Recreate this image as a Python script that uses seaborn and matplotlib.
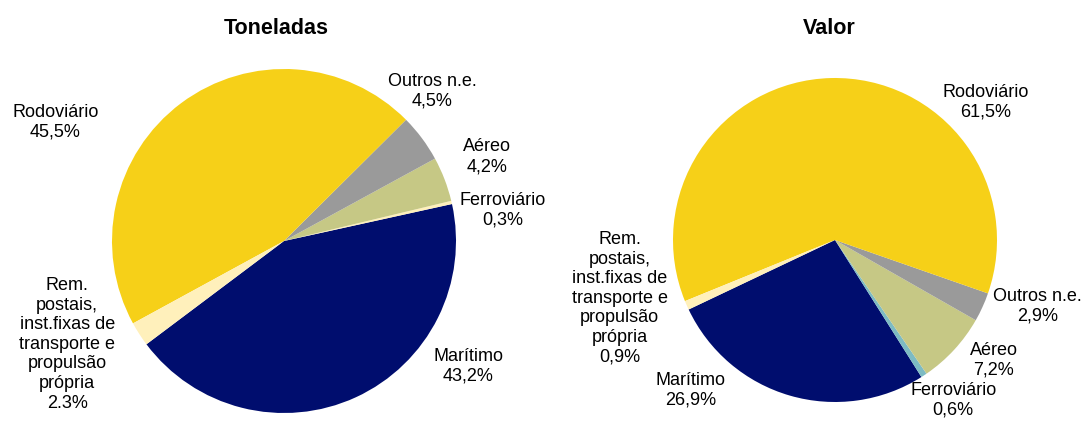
import matplotlib
matplotlib.use("Agg")
import matplotlib.pyplot as plt
import seaborn as sns

sns.set_theme(style="white")
plt.rcParams["font.family"] = ["Liberation Sans", "DejaVu Sans"]

# Shares by transport mode (%), listed counterclockwise from Marítimo
modes = ["Marítimo", "Ferroviário", "Aéreo", "Outros n.e.", "Rodoviário", "Rem. postais"]
toneladas = [43.2, 0.3, 4.2, 4.5, 45.5, 2.3]
valor = [26.9, 0.6, 7.2, 2.9, 61.5, 0.9]

labels_ton = ["Marítimo\n43,2%", "Ferroviário\n0,3%", "Aéreo\n4,2%", "Outros n.e.\n4,5%",
              "Rodoviário\n45,5%",
              "Rem.\npostais,\ninst.fixas de\ntransporte e\npropulsão\nprópria\n2.3%"]
labels_val = ["Marítimo\n26,9%", "Ferroviário\n0,6%", "Aéreo\n7,2%", "Outros n.e.\n2,9%",
              "Rodoviário\n61,5%",
              "Rem.\npostais,\ninst.fixas de\ntransporte e\npropulsão\nprópria\n0,9%"]

colors_ton = ["#000D6E", "#FFF0BB", "#C6C885", "#9A9A9A", "#F6D018", "#FFF0BB"]
colors_val = ["#000D6E", "#7DBBC3", "#C6C885", "#9A9A9A", "#F6D018", "#FFF0BB"]

# label anchor points in pie-radius units
pos_ton = [(1.07, -0.73), (1.27, 0.18), (1.18, 0.49), (0.86, 0.87), (-1.33, 0.69), (-1.26, -0.60)]
pos_val = [(-0.89, -0.93), (0.73, -0.99), (0.98, -0.74), (1.25, -0.41), (0.93, 0.85), (-1.33, -0.36)]

W, H = 1086, 423
fig = plt.figure(figsize=(W / 100, H / 100), dpi=100)


def pie_axes(cx, cy, r, half=200):
    ax = fig.add_axes([(cx - half) / W, (H - cy - half) / H, 2 * half / W, 2 * half / H])
    return ax


def draw(ax, values, colors, labels, positions, start, lim):
    ax.pie(values, colors=colors, startangle=start, counterclock=True, radius=1,
           wedgeprops=dict(linewidth=0), frame=True)
    ax.set_axis_off()
    ax.set_xlim(-lim, lim)
    ax.set_ylim(-lim, lim)
    for lab, (x, y) in zip(labels, positions):
        ax.text(x, y, lab, ha="center", va="center", fontsize=13, color="#000000",
                linespacing=1.2)


ax1 = pie_axes(284, 241, 172)
draw(ax1, toneladas, colors_ton, labels_ton, pos_ton, 216.9, 200 / 172)

ax2 = pie_axes(835, 240, 162)
draw(ax2, valor, colors_val, labels_val, pos_val, 205.4, 200 / 162)

fig.text(276 / W, 1 - 28 / H, "Toneladas", ha="center", va="center", fontsize=15.5,
         fontweight="bold", color="#000000")
fig.text(829 / W, 1 - 28 / H, "Valor", ha="center", va="center", fontsize=15.5,
         fontweight="bold", color="#000000")

fig.savefig("out.png", dpi=100, facecolor="white")
